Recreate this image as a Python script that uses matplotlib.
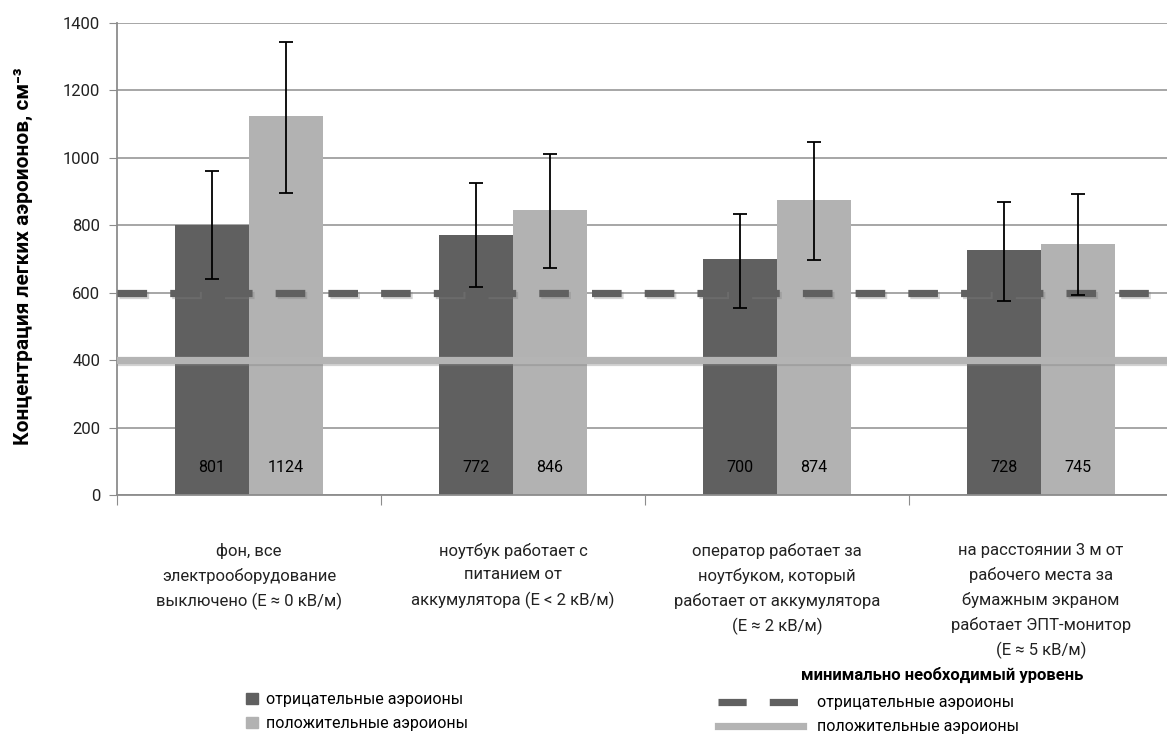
import matplotlib
matplotlib.use("Agg")
import matplotlib.pyplot as plt
import matplotlib.patheffects as pe
from matplotlib.lines import Line2D
from matplotlib.patches import Patch
import numpy as np

plt.rcParams['font.family'] = ['Roboto', 'DejaVu Sans']

categories = [
    "фон, все\nэлектрооборудование\nвыключено (E ≈ 0 кВ/м)",
    "ноутбук работает с\nпитанием от\nаккумулятора (E < 2 кВ/м)",
    "оператор работает за\nноутбуком, который\nработает от аккумулятора\n(E ≈ 2 кВ/м)",
    "на расстоянии 3 м от\nрабочего места за\nбумажным экраном\nработает ЭПТ-монитор\n(E ≈ 5 кВ/м)",
]
negative = [801, 772, 700, 728]
positive = [1124, 846, 874, 745]
neg_err_low = [161, 154, 146, 152]
neg_err_high = [160, 153, 134, 141]
pos_err_low = [228, 172, 177, 151]
pos_err_high = [218, 164, 172, 147]
min_negative = 600
min_positive = 400
yticks = [0, 200, 400, 600, 800, 1000, 1200, 1400]

c_dark = "#606060"
c_light = "#b2b2b2"

W, H = 1167, 744
fig = plt.figure(figsize=(W / 100, H / 100), dpi=100)
left, right = 117, 1173
bottom, top = 495.2, 22.7
ax = fig.add_axes([left / W, (H - bottom) / H, (right - left) / W, (bottom - top) / H])

x = np.arange(len(categories))
bw = 0.28
ax.set_axisbelow(True)
ax.yaxis.grid(True, color="#a6a6a6", linewidth=1.4)

ax.bar(x - bw / 2, negative, bw, color=c_dark, zorder=2)
ax.bar(x + bw / 2, positive, bw, color=c_light, zorder=2)

shadow = [pe.SimpleLineShadow(offset=(1.5, -1.5), shadow_color="gray", alpha=0.35), pe.Normal()]
ax.axhline(min_positive, color="#b4b4b4", linewidth=5.2, zorder=3, path_effects=shadow)
ax.axhline(min_negative, color=c_dark, linewidth=5.2, zorder=3,
           dashes=(4.1, 3.2), dash_capstyle="butt", path_effects=shadow)

ax.errorbar(x - bw / 2, negative, yerr=[neg_err_low, neg_err_high], fmt="none",
            ecolor="black", elinewidth=1.3, capsize=5, capthick=1.3, zorder=4)
ax.errorbar(x + bw / 2, positive, yerr=[pos_err_low, pos_err_high], fmt="none",
            ecolor="black", elinewidth=1.3, capsize=5, capthick=1.3, zorder=4)

for xi, v in zip(x - bw / 2, negative):
    ax.text(xi, 82, f"{v}", ha="center", va="center", fontsize=11.5, zorder=5)
for xi, v in zip(x + bw / 2, positive):
    ax.text(xi, 82, f"{v}", ha="center", va="center", fontsize=11.5, zorder=5)

ax.set_xlim(-0.5, len(categories) - 0.5)
ax.set_ylim(0, 1400)
ax.set_yticks(yticks)
ax.set_yticklabels([str(t) for t in yticks], fontsize=12, color="#222222")
ax.tick_params(axis="y", length=6, color="#8c8c8c", pad=6)
ax.set_xticks(np.arange(len(categories) + 1) - 0.5)
ax.set_xticklabels([])
ax.tick_params(axis="x", length=7, color="#8c8c8c")
for xi, lab in enumerate(categories):
    ax.text(xi, -142, lab, ha="center", va="top", fontsize=12, linespacing=1.68,
            transform=ax.transData, clip_on=False, color="#222222")

for s in ["top", "right"]:
    ax.spines[s].set_visible(False)
for s in ["left", "bottom"]:
    ax.spines[s].set_color("#8c8c8c")
    ax.spines[s].set_linewidth(1.3)

fig.text(23 / W, (H - 256) / H, "Концентрация легких аэроионов, см⁻³",
         rotation=90, ha="center", va="center", fontsize=15, fontweight="bold")

fig.legend(handles=[Patch(color=c_dark), Patch(color=c_light)],
           labels=["отрицательные аэроионы", "положительные аэроионы"],
           loc="upper left", bbox_to_anchor=(240 / W, (H - 686) / H),
           frameon=False, fontsize=11.5, handlelength=0.7, handleheight=0.7,
           handletextpad=0.5, labelspacing=0.55, borderaxespad=0)

fig.text(942 / W, (H - 675) / H, "минимально необходимый уровень", ha="center",
         va="center", fontsize=12, fontweight="bold")
fig.legend(handles=[Line2D([], [], color=c_dark, lw=5.2, dashes=(3.9, 3.2)),
                    Line2D([], [], color="#b4b4b4", lw=5.2)],
           labels=["отрицательные аэроионы", "положительные аэроионы"],
           loc="upper left", bbox_to_anchor=(712 / W, (H - 689) / H),
           frameon=False, fontsize=11.5, handlelength=5.3,
           handletextpad=0.9, labelspacing=0.55, borderaxespad=0)

fig.savefig("out.png", dpi=100)
